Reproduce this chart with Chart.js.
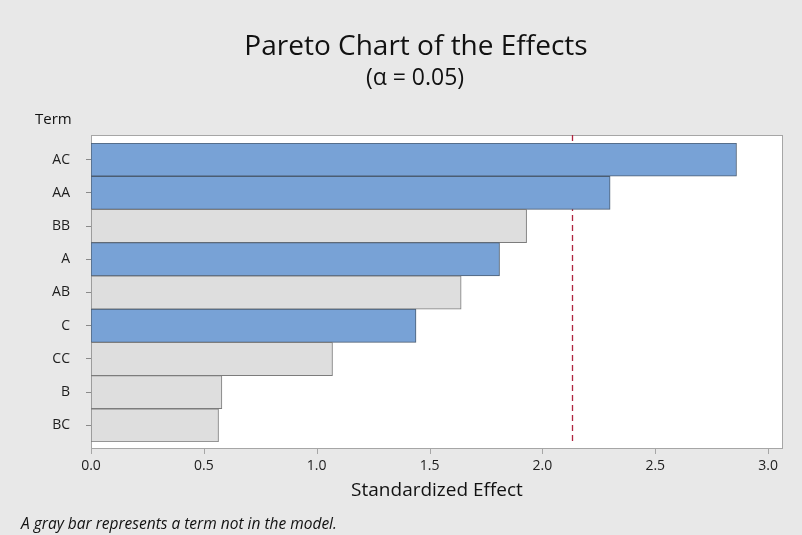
<!DOCTYPE html>
<html>
<head>
<meta charset="utf-8">
<script src="https://cdn.jsdelivr.net/npm/chart.js@4"></script>
<style>
  body { margin: 0; background: #e8e8e8; }
  #wrap { width: 802px; height: 535px; }
</style>
</head>
<body>
<div id="wrap"><canvas id="pareto"></canvas></div>
<script>
// terms, sorted as in the chart (largest effect on top)
const terms = ["AC", "AA", "BB", "A", "AB", "C", "CC", "B", "BC"];
const effects = [2.86, 2.30, 1.93, 1.81, 1.64, 1.44, 1.07, 0.58, 0.565];
const inModel = [true, true, false, true, false, true, false, false, false];
const xTickValues = [0, 0.5, 1.0, 1.5, 2.0, 2.5, 3.0];
const alpha = 0.05;
const criticalValue = 2.131;
const xMax = 3.066;

const blue = "#78a2d6";
const gray = "#dedede";

// background, plot frame, ref line and texts
const decor = {
  id: "decor",
  beforeDraw(chart) {
    const ctx = chart.ctx;
    const a = chart.chartArea;
    ctx.save();
    ctx.fillStyle = "#e8e8e8";
    ctx.fillRect(0, 0, chart.width, chart.height);
    const top = a.top - 8, bottom = a.bottom + 7;
    ctx.fillStyle = "#ffffff";
    ctx.fillRect(a.left, top, a.right - a.left, bottom - top);
    ctx.strokeStyle = "#a6a6a6";
    ctx.lineWidth = 1;
    ctx.strokeRect(a.left + 0.5, top + 0.5, a.right - a.left - 1, bottom - top - 1);
    // x tick marks below the frame
    const x = chart.scales.x;
    ctx.beginPath();
    for (const t of x.ticks) {
      const px = Math.round(x.getPixelForValue(t.value)) + 0.5;
      ctx.moveTo(px, bottom);
      ctx.lineTo(px, bottom + 5);
    }
    ctx.stroke();
    ctx.restore();
  },
  beforeDatasetsDraw(chart) {
    const ctx = chart.ctx;
    const a = chart.chartArea;
    const px = Math.round(chart.scales.x.getPixelForValue(criticalValue)) + 0.5;
    ctx.save();
    ctx.strokeStyle = "#b0243f";
    ctx.lineWidth = 1.3;
    ctx.setLineDash([6, 4]);
    ctx.beginPath();
    ctx.moveTo(px, a.top - 8);
    ctx.lineTo(px, a.bottom + 1);
    ctx.stroke();
    ctx.restore();
  },
  afterDraw(chart) {
    const ctx = chart.ctx;
    ctx.save();
    ctx.fillStyle = "#111";
    ctx.textAlign = "center";
    ctx.textBaseline = "alphabetic";
    ctx.font = "28px 'Open Sans'";
    ctx.fillText("Pareto Chart of the Effects", 416, 55);
    ctx.font = "23px 'Open Sans'";
    ctx.fillText("(\u03b1 = " + alpha.toFixed(2) + ")", 415, 85);
    ctx.textAlign = "left";
    ctx.font = "15px 'Open Sans'";
    ctx.fillText("Term", 35, 124);
    ctx.font = "italic 15.5px 'Open Sans'";
    ctx.fillText("A gray bar represents a term not in the model.", 21, 529);
    ctx.restore();
  }
};

new Chart(document.querySelector("#pareto"), {
  type: "bar",
  data: {
    labels: terms,
    datasets: [{
      data: effects,
      backgroundColor: inModel.map(m => m ? blue : gray),
      borderColor: inModel.map(m => m ? "#4b5d72" : "#7c7c7c"),
      borderWidth: 1,
      borderSkipped: false,
      barPercentage: 1,
      categoryPercentage: 1
    }]
  },
  options: {
    indexAxis: "y",
    responsive: true,
    maintainAspectRatio: false,
    animation: false,
    layout: { padding: { top: 143, right: 19, left: 0, bottom: 0 } },
    plugins: {
      legend: { display: false },
      tooltip: { enabled: false }
    },
    scales: {
      y: {
        afterFit(s) { s.width = 91; },
        grid: { drawOnChartArea: false, offset: false, tickLength: 5, color: "#8a8a8a" },
        border: { display: false },
        ticks: { padding: 16, color: "#1e1e1e", font: { family: "Open Sans", size: 14 } }
      },
      x: {
        min: 0,
        max: xMax,
        afterFit(s) { s.height = 93; },
        afterBuildTicks(s) { s.ticks = xTickValues.map(v => ({ value: v })); },
        grid: { display: false, drawTicks: false },
        border: { display: false },
        ticks: {
          maxRotation: 0,
          autoSkip: false,
          padding: 16,
          color: "#1e1e1e",
          font: { family: "Open Sans", size: 14 },
          callback: v => v.toFixed(1)
        },
        title: {
          display: true,
          text: "Standardized Effect",
          color: "#111",
          font: { family: "Open Sans", size: 19 },
          padding: { top: 0, bottom: 33 }
        }
      }
    }
  },
  plugins: [decor]
});
</script>
</body>
</html>
